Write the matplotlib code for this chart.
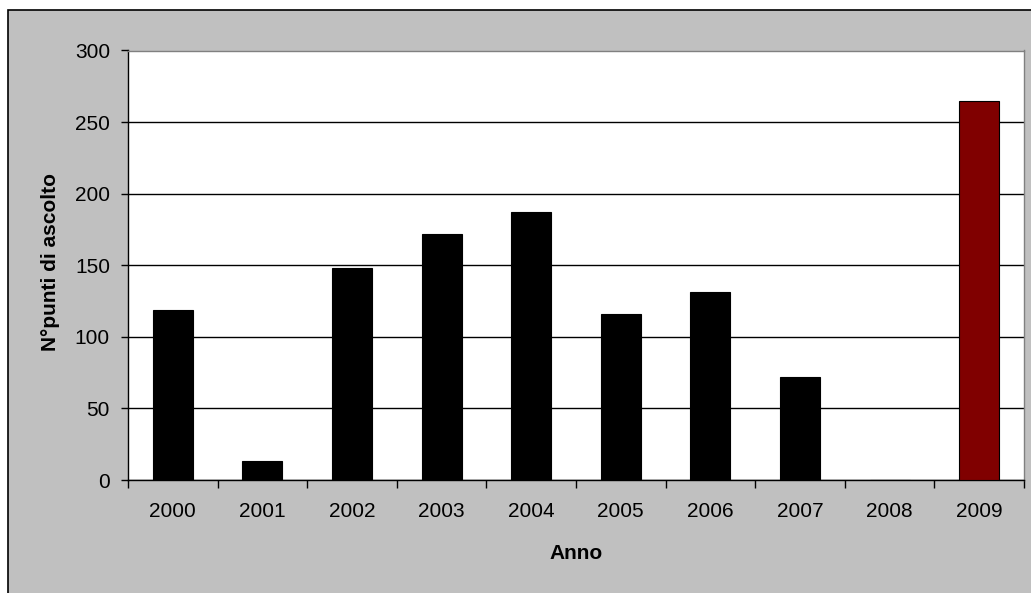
import matplotlib.pyplot as plt
from matplotlib.patches import Rectangle
import numpy as np

plt.rcParams['font.family'] = ['Liberation Sans', 'DejaVu Sans']

# Numero di punti di ascolto per anno
anni = ['2000', '2001', '2002', '2003', '2004', '2005', '2006', '2007', '2008', '2009']
punti = [119, 13, 148, 172, 187, 116, 131, 72, 0, 265]
colori = ['black'] * 9 + ['#800000']

fig = plt.figure(figsize=(10.31, 5.93), dpi=100, facecolor='white')

# cornice grigia dell'area del grafico
fig.patches.append(Rectangle((8 / 1031, -0.05), 1.1, (593 - 10) / 593 + 0.05,
                             transform=fig.transFigure, facecolor='#C0C0C0',
                             edgecolor='black', linewidth=1.2, zorder=-10))

ax = fig.add_axes([128 / 1031, 113 / 593, 896 / 1031, 429.5 / 593])
ax.set_facecolor('white')

x = np.arange(len(anni))
ax.bar(x, punti, width=0.445, color=colori, edgecolor='black', linewidth=0.8, zorder=3)

ax.set_xlim(-0.5, len(anni) - 0.5)
ax.set_ylim(0, 300)
ax.set_yticks(np.arange(0, 301, 50))
ax.yaxis.grid(True, color='black', linewidth=1.0, zorder=1)
ax.set_axisbelow(True)

ax.set_xticks(x)
ax.set_xticklabels(anni)
ax.set_xticks(np.arange(-0.5, len(anni)), minor=True)
ax.tick_params(axis='x', which='major', length=0, pad=16, labelsize=15)
ax.tick_params(axis='x', which='minor', length=6, width=1, direction='out')
ax.tick_params(axis='y', length=5, width=1, direction='out', pad=8, labelsize=15)

for lato in ['top', 'right']:
    ax.spines[lato].set_color('#808080')
for lato in ['left', 'bottom']:
    ax.spines[lato].set_color('black')
for s in ax.spines.values():
    s.set_linewidth(1.0)

ax.text(-0.087, 0.508, 'N°punti di ascolto', transform=ax.transAxes, rotation=90,
        ha='center', va='center', fontsize=15, fontweight='bold')
ax.text(0.5, -0.17, 'Anno', transform=ax.transAxes, ha='center', va='center',
        fontsize=15, fontweight='bold')

fig.savefig('out.png', dpi=100, facecolor=fig.get_facecolor())
